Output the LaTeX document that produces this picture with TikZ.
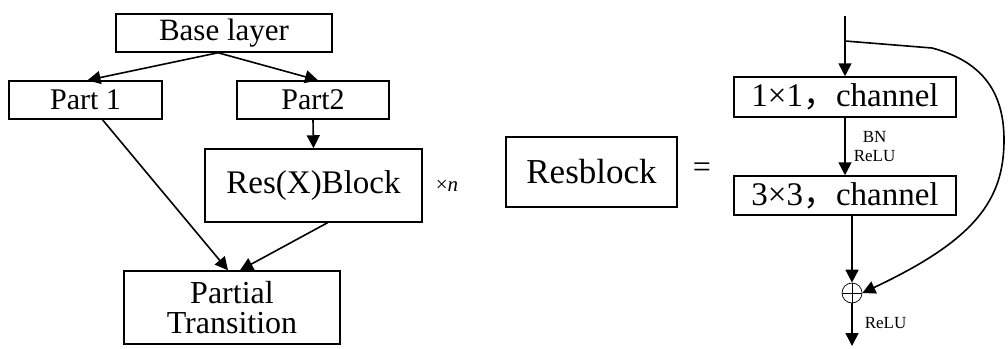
\documentclass[tikz,border=0pt]{standalone}
\usepackage{fontspec}
\setmainfont{Liberation Serif}
\newfontfamily\cjk{Noto Sans CJK SC}
\usetikzlibrary{arrows.meta}

\tikzset{
	blk/.style={draw, line width=1.5pt, inner sep=0pt, align=center, font=\fontsize{31}{34}\selectfont},
	lbl/.style={inner sep=0pt, align=center, font=\fontsize{17}{19}\selectfont},
	arr/.style={line width=1.6pt, -{Triangle[length=13pt,width=13pt]}}
}

\begin{document}
\begin{tikzpicture}[x=1pt, y=-1pt]
	\useasboundingbox (0,0) rectangle (1008,348);

	% CSP part
	\node[blk, minimum width=216pt, minimum height=38pt] (base) at (224,33) {Base layer};
	\node[blk, font=\fontsize{30}{34}\selectfont, minimum width=153pt, minimum height=38pt] (part1) at (85.5,100) {Part 1};
	\node[blk, font=\fontsize{30}{34}\selectfont, minimum width=152pt, minimum height=38pt] (part2) at (313,100) {Part2};
	\node[blk, font=\fontsize{33}{36}\selectfont, minimum width=217pt, minimum height=73pt] (resx) at (313.5,185.5) {Res(X)Block};
	\node[lbl, font=\fontsize{21}{23}\selectfont] (times) at (447,186) {×\textit{n}};
	\node[blk, font=\fontsize{32}{34}\selectfont, minimum width=216pt, minimum height=73pt] (partial) at (232,307.5) {Partial\\[-4pt]Transition};

	\draw[arr] ([xshift=-6pt]base.south) -- ([xshift=2pt]part1.north);
	\draw[arr] ([xshift=-6pt]base.south) -- ([xshift=5pt]part2.north);
	\draw[arr] (part2.south) -- (resx.north);
	\draw[arr] ([xshift=17pt]part1.south) -- ([xshift=-4pt]partial.north);
	\draw[arr] ([xshift=14pt]resx.south) -- ([xshift=8pt]partial.north);

	% residual block
	\node[blk, font=\fontsize{35}{38}\selectfont, minimum width=171pt, minimum height=70pt] (resb) at (591.5,172) {Resblock};
	\node[inner sep=0pt, font=\fontsize{32}{34}\selectfont] (eq) at (702,170) {=};
	\node[blk, font=\fontsize{33}{36}\selectfont, minimum width=222pt, minimum height=40pt] (c1) at (845,97) {1×1{\cjk ，}channel};
	\node[blk, font=\fontsize{33}{36}\selectfont, minimum width=222pt, minimum height=39pt] (c2) at (845,195.5) {3×3{\cjk ，}channel};
	\node[draw, circle, line width=0.7pt, minimum size=20pt, inner sep=0pt,
		path picture={\draw[line width=0.7pt] (path picture bounding box.north) -- (path picture bounding box.south)
			(path picture bounding box.west) -- (path picture bounding box.east);}] (plus) at (852,293) {};
	\coordinate (in) at (845,16);
	\coordinate (split) at (845,41);
	\coordinate (out) at (852,346);

	\draw[arr] (in) -- (c1.north);
	\draw[arr] (c1.south) -- node[lbl, right=8pt] {BN\\ReLU} (c2.north);
	\draw[arr] (plus |- c2.south) -- (plus.north);
	\draw[arr] (plus.south) -- node[lbl, right=12pt, pos=0.45] {ReLU} (out);
	\draw[arr] (split) -- (932,48) .. controls (985,62) and (1004,95) .. (1004,140)
		.. controls (1004,200) and (975,240) .. (plus.east);
\end{tikzpicture}
\end{document}
